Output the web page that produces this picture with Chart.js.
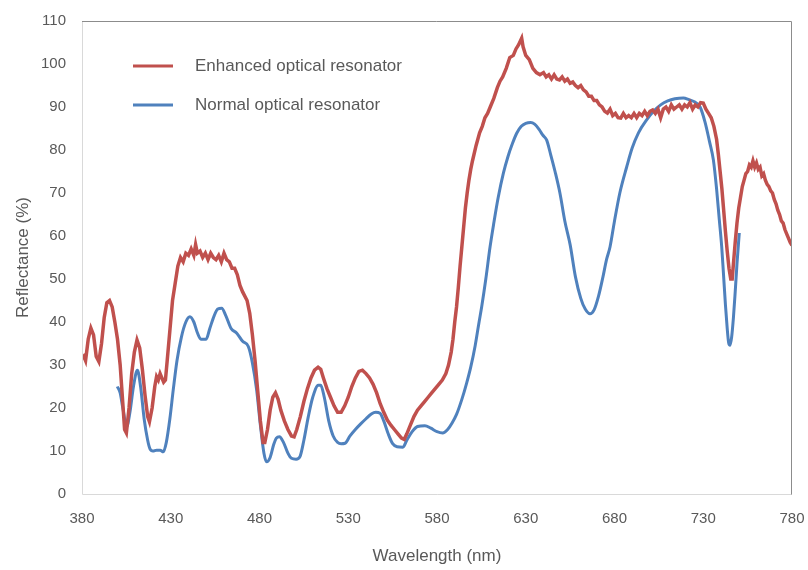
<!DOCTYPE html>
<html>
<head>
<meta charset="utf-8">
<title>Reflectance</title>
<script src="https://cdn.jsdelivr.net/npm/chart.js@4.4.1/dist/chart.umd.min.js"></script>
<style>
  html, body { margin: 0; padding: 0; background: #fff; }
  #wrap { width: 808px; height: 570px; }
</style>
</head>
<body>
<div id="wrap"><canvas id="chart" width="808" height="570"></canvas></div>
<script>
// axis ticks
const xTicks = [380, 430, 480, 530, 580, 630, 680, 730, 780];
const yTicks = [0, 10, 20, 30, 40, 50, 60, 70, 80, 90, 100, 110];

const seriesNames = ["Enhanced optical resonator", "Normal optical resonator"];

// enhanced optical resonator (red)
const enhancedNm = [
  380, 381, 382, 383.5, 385, 386.5, 388, 389.5, 391, 392.5, 394, 395.5, 397, 398.5, 400, 401.5, 403, 404, 405, 406.5,
  408, 409.5, 411, 412.5, 414, 415.5, 417, 418, 419.5, 421, 422, 423, 424, 425, 426, 427, 428, 429.5, 431, 432.5,
  434, 435.5, 437, 438.5, 440, 441.5, 443, 444, 445, 446.5, 448, 449.5, 451, 452.5, 454, 455.5, 457, 458.5, 460, 461.5,
  463, 464.5, 466, 467.5, 469, 470.5, 473, 474.5, 476, 477.5, 479, 480.5, 482, 483, 484.5, 486, 487.5, 489, 490.5, 492,
  494, 496, 498, 499.5, 501, 503, 505, 507, 509, 511, 513, 514.5, 516, 518, 520, 522, 524, 526, 528, 530,
  532, 534, 536, 538, 540, 542, 544, 546, 548, 550, 552, 554, 556, 558, 560, 561.5, 563, 565, 567, 569,
  571, 573, 575, 577, 579, 581, 583, 585, 586.5, 588, 589, 590, 591, 592, 593, 594, 595, 596, 597, 598,
  599, 600, 602, 604, 605.5, 607, 608.5, 610, 612, 614, 615.5, 617, 619, 621, 623, 624.5, 626, 627.7, 628.5, 630,
  632, 634, 636, 638, 640, 641.5, 643, 644.5, 646, 647.5, 649, 650.5, 652, 653.5, 655, 656.5, 658, 659.5, 661, 662.5,
  664, 665.5, 667, 668.5, 670, 671.5, 673, 674.5, 676, 677.5, 679, 680.5, 682, 683.5, 685, 686.5, 688, 689.5, 691, 692.5,
  694, 695.5, 697, 698.5, 700, 701.5, 703, 704.5, 706, 707.5, 709, 710.5, 712, 713.5, 715, 716.5, 718, 719.5, 721, 722.5,
  724, 725.5, 727, 728.5, 730, 731.5, 733, 734.5, 736, 737.5, 738.5, 739.5, 740.5, 741.5, 742.5, 743.5, 744.5, 745.5, 746.3, 747,
  748, 749, 750, 751, 752, 753, 754, 755, 756, 757, 758, 759, 760, 761, 762, 763, 764, 765, 766, 767,
  768, 769, 770, 771, 772, 773, 774, 775, 776, 777, 778, 779, 780
];
const enhancedR = [
  31.5, 32, 31, 36, 38.6, 37, 32, 30.8, 35, 41, 44.5, 45, 43.5, 40, 36, 30, 21, 15, 14.2, 20,
  28, 33, 35.8, 34, 29, 23, 18, 16.8, 20, 25, 27.3, 26.5, 28, 27, 26, 26.5, 31, 38, 45, 49,
  53, 55, 54, 56, 55.5, 57, 55.5, 58, 56, 56.5, 55, 56, 54.5, 56, 55, 54.5, 55.5, 54, 56, 54.5,
  54, 52.5, 52.5, 51, 48.5, 47, 45, 42, 37, 31, 24, 17, 12, 12, 15, 19.5, 22.5, 23.5, 22, 19.5,
  17, 15, 13.5, 13.3, 15, 18, 21.5, 24.5, 27, 28.8, 29.5, 29, 27, 24.5, 22.5, 20.5, 19, 19, 20.5, 22.5,
  25, 27, 28.5, 28.8, 28, 27, 25.5, 23.5, 21, 19, 17.2, 16, 15, 14, 13, 12.7, 14, 16, 18, 19.5,
  20.5, 21.5, 22.5, 23.5, 24.5, 25.5, 26.5, 28, 30, 33, 36, 40, 43.5, 48, 53, 57.5, 62, 66.5, 70, 73,
  75.5, 77.5, 81, 84, 85.5, 87.5, 88.5, 90, 92, 94.5, 96, 97, 99, 101.5, 102, 103.5, 104.5, 106, 104, 102,
  101, 99, 98, 97.5, 98, 97, 97.5, 96.5, 97.5, 96.5, 96.3, 97, 96, 96.5, 95.5, 95.8, 95, 94.5, 95, 94,
  93.5, 92.5, 92.5, 91.5, 91.5, 90.5, 90, 89, 88.6, 89.5, 88, 88.5, 87.5, 87.4, 88.5, 87.5, 88, 87.5, 88.5, 87.5,
  88.5, 88, 89, 88, 89, 89.3, 88.5, 89.5, 87.5, 89.5, 90, 89, 90.5, 89.5, 90, 90.5, 89.5, 90.5, 90, 91,
  89.5, 90.5, 90, 91, 90.9, 89.5, 88.5, 87.5, 85.5, 82.5, 79, 75, 71, 66, 61, 56.5, 52.5, 50, 50, 53.5,
  58.5, 63, 66.5, 69, 71.5, 73, 74.5, 75, 76.5, 76, 77.5, 76, 77, 75.5, 76, 74, 74.5, 73, 72, 71.5,
  70.5, 70, 68.5, 67.5, 66, 65, 63.5, 63, 61.5, 60.5, 59.5, 58.5, 57.8
];

// normal optical resonator (blue)
const normalNm = [
  399.9, 401.5, 403, 405.2, 407, 409, 411.2, 413, 415, 417, 418.3, 420, 422, 424, 425.8, 427.5, 429.5, 431.4, 433.5, 436,
  438.5, 440.8, 443, 445, 447, 449.9, 452, 454.5, 456.5, 458.7, 461, 464, 467.2, 470.5, 473.7, 476, 478.4, 480.5, 482.5, 484,
  486, 488, 489.5, 491.2, 493.5, 496, 498, 500.6, 502.8, 505, 507.5, 510, 513.1, 514.5, 516.5, 519, 521.5, 524, 526, 528.2,
  531, 534, 537, 540, 543, 545.5, 547.9, 550, 552.5, 555, 557.5, 560.8, 563, 566, 569, 573.2, 576.5, 580, 583.2, 586,
  588.5, 591, 594, 596.7, 599, 601.5, 603.5, 605.2, 607.5, 609.9, 612, 614.5, 617.4, 620, 622.5, 624.9, 627.5, 630, 632.8, 635,
  637.5, 639.5, 641.8, 644, 646.5, 649.3, 652, 655, 658, 661, 663.5, 666.2, 668.5, 671, 673.5, 675.5, 677.5, 680, 683, 686.9,
  690, 693.5, 698.1, 702, 706, 710, 714, 718.8, 722, 725, 728.2, 731, 733.5, 735.7, 737.5, 739, 740.4, 741.5, 742.5, 743.5,
  744.3, 745.1, 746, 747, 748, 749, 750.3
];
const normalR = [
  25, 23.5, 20, 15.7, 19, 25, 28.8, 25, 17.5, 12.5, 10.5, 10, 10.2, 10.2, 9.8, 12, 17.5, 24.2, 31, 36.5,
  40, 41.2, 40, 37.5, 36, 36, 38.5, 41.5, 43, 43.2, 41.5, 38.5, 37.4, 35.5, 34.3, 30.5, 24.2, 16, 9.5, 7.5,
  8.5, 11.5, 13, 13.3, 12, 9.5, 8.3, 8.1, 8.7, 12.5, 18, 22.5, 25.3, 25.3, 22.5, 17, 13.5, 12, 11.7, 11.8,
  13.5, 15, 16.3, 17.5, 18.6, 19, 18.8, 17, 14, 11.7, 11, 10.9, 12.5, 14.5, 15.7, 15.9, 15.3, 14.5, 14.2, 15,
  16.5, 18.5, 22, 25.8, 29.5, 34.5, 39.5, 43.6, 50, 57.5, 63, 69, 74.6, 78.5, 81.5, 83.9, 85.5, 86.2, 86.4, 86,
  84.8, 83.5, 82.3, 79, 75, 69.9, 63.5, 58, 50.5, 45.5, 43, 41.9, 42.8, 46, 50.5, 54.5, 57.5, 63.5, 70, 76.1,
  80.5, 84, 87, 89, 90.5, 91.4, 91.9, 92.1, 91.7, 91.2, 90, 86.5, 82, 77.7, 71, 64, 57.5, 50.5, 44, 38.5,
  35.2, 34.6, 36.5, 41, 47, 53.5, 60.7
];

const red = "#C0504D";
const blue = "#4F81BD";
const textColor = "#595959";
const fontFamily = "'Liberation Sans', Arial, sans-serif";

const toPoints = (xs, ys) => xs.map((x, i) => ({ x: x, y: ys[i] }));

// plot area frame + legend inside the plot
const framePlugin = {
  id: "frame",
  afterDraw(chart) {
    const { ctx, chartArea: a } = chart;
    ctx.save();
    ctx.lineWidth = 1;
    ctx.strokeStyle = "#d9d9d9";
    ctx.beginPath();
    ctx.moveTo(a.left + 0.5, a.top);
    ctx.lineTo(a.left + 0.5, a.bottom + 0.5);
    ctx.lineTo(a.right, a.bottom + 0.5);
    ctx.stroke();
    ctx.strokeStyle = "#8c8c8c";
    ctx.beginPath();
    ctx.moveTo(a.left, a.top + 0.5);
    ctx.lineTo(a.right - 0.5, a.top + 0.5);
    ctx.lineTo(a.right - 0.5, a.bottom + 0.5);
    ctx.stroke();

    // legend
    const rows = [66, 105];
    ctx.font = "17px " + fontFamily;
    ctx.textBaseline = "middle";
    ctx.textAlign = "left";
    chart.data.datasets.forEach((ds, i) => {
      ctx.strokeStyle = ds.borderColor;
      ctx.lineWidth = 3;
      ctx.beginPath();
      ctx.moveTo(133, rows[i]);
      ctx.lineTo(173, rows[i]);
      ctx.stroke();
      ctx.fillStyle = textColor;
      ctx.fillText(ds.label, 195, rows[i]);
    });
    ctx.restore();
  }
};

new Chart(document.getElementById("chart"), {
  type: "line",
  data: {
    datasets: [
      {
        label: seriesNames[0],
        data: toPoints(enhancedNm, enhancedR),
        borderColor: red,
        borderWidth: 3.5,
        pointRadius: 0,
        tension: 0
      },
      {
        label: seriesNames[1],
        data: toPoints(normalNm, normalR),
        borderColor: blue,
        borderWidth: 3,
        pointRadius: 0,
        cubicInterpolationMode: "monotone"
      }
    ]
  },
  options: {
    responsive: false,
    animation: false,
    layout: { padding: { top: 21, right: 16, left: 0, bottom: 0 } },
    plugins: {
      legend: { display: false },
      tooltip: { enabled: false }
    },
    scales: {
      x: {
        type: "linear",
        min: xTicks[0],
        max: xTicks[xTicks.length - 1],
        afterBuildTicks: s => { s.ticks = xTicks.map(v => ({ value: v })); },
        afterFit: s => { s.height = 76; s.paddingLeft = 0; s.paddingRight = 0; },
        grid: { display: false, drawTicks: false },
        border: { display: false },
        ticks: { color: textColor, font: { size: 15, family: fontFamily }, padding: 16, maxRotation: 0 },
        title: {
          display: true,
          text: "Wavelength (nm)",
          color: textColor,
          font: { size: 17, family: fontFamily },
          padding: { top: 0, bottom: 3 }
        }
      },
      y: {
        min: yTicks[0],
        max: yTicks[yTicks.length - 1],
        afterBuildTicks: s => { s.ticks = yTicks.map(v => ({ value: v })); },
        afterFit: s => { s.width = 82; s.paddingTop = 0; s.paddingBottom = 0; },
        grid: { display: false, drawTicks: false },
        border: { display: false },
        ticks: { color: textColor, font: { size: 15, family: fontFamily }, padding: 16 },
        title: {
          display: true,
          text: "Reflectance (%)",
          color: textColor,
          font: { size: 17, family: fontFamily },
          padding: { top: 13, bottom: 0 }
        }
      }
    }
  },
  plugins: [framePlugin]
});
</script>
</body>
</html>
